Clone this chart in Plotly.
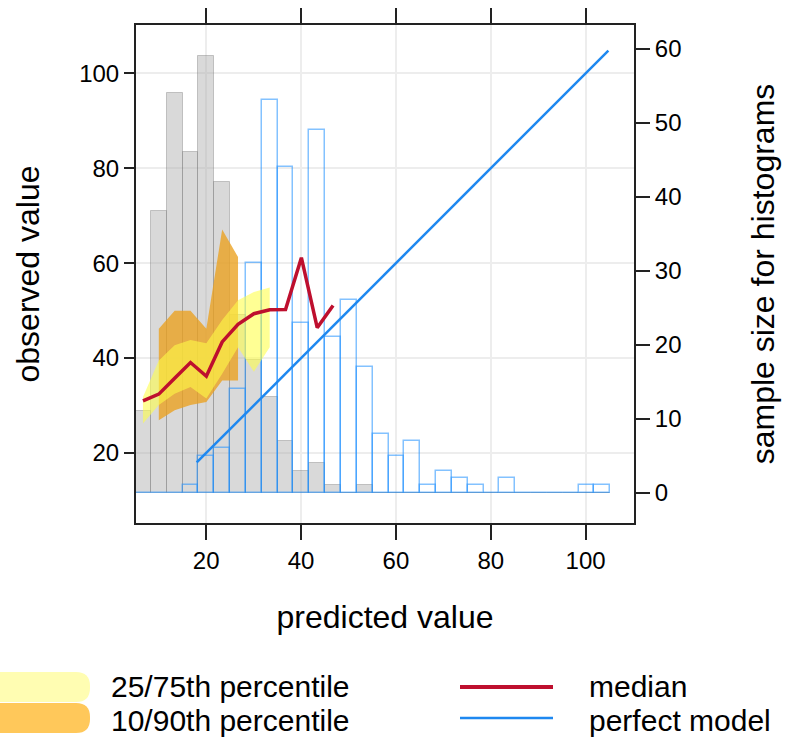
import plotly.graph_objects as go

# ---------------- data ----------------
bin_mid = [6.67, 10.01, 13.35, 16.69, 20.03, 23.37, 26.71, 30.05, 33.39, 36.73,
           40.07, 43.41, 46.75, 50.09, 53.43, 56.77, 60.11, 63.45, 66.79, 70.13,
           73.47, 76.81, 80.15, 83.49, 86.83, 90.17, 93.51, 96.85, 100.19, 103.53]
obs_counts = [11, 38, 54, 46, 59, 42, 24, 18, 13, 7, 3, 4, 1, 0, 1,
              0, 0, 0, 0, 0, 0, 0, 0, 0, 0, 0, 0, 0, 0, 0]
mod_counts = [0, 0, 0, 1, 5, 6, 14, 31, 53, 44, 23, 49, 21, 26, 17,
              8, 5, 7, 1, 3, 2, 1, 0, 2, 0, 0, 0, 0, 1, 1]

median_x = [6.67, 10.01, 13.35, 16.69, 20.03, 23.37, 26.71, 30.05, 33.39, 36.73,
            40.07, 43.41, 46.75]
median_y = [31.0, 32.4, 35.75, 39.06, 36.17, 43.4, 47.1, 49.35, 50.2, 50.25,
            61.15, 46.4, 51.1]

q2575_x = [6.67, 10.01, 13.35, 16.69, 20.03, 23.37, 26.71, 30.05, 33.39]
q75 = [31.8, 39.5, 42.7, 43.8, 43.1, 48.0, 52.2, 53.9, 54.9]
q25 = [26.2, 30.1, 32.5, 33.9, 31.5, 36.7, 42.3, 37.1, 42.3]

q1090_x = [10.01, 13.35, 16.69, 20.03, 23.37, 26.71]
q90 = [46.2, 50.0, 50.0, 46.2, 67.1, 61.3]
q10 = [26.9, 29.0, 30.1, 30.75, 35.3, 35.3]

perfect_x = [18.0, 104.8]
perfect_y = [18.0, 104.8]

x_ticks = [20, 40, 60, 80, 100]
y_ticks = [20, 40, 60, 80, 100]
count_ticks = [0, 10, 20, 30, 40, 50, 60]

legend_labels = ["25/75th percentile", "10/90th percentile", "median", "perfect model"]

BIN_W = 3.34
FONT = "Liberation Sans, Arial, Helvetica, sans-serif"

# ---------------- geometry ----------------
W, H = 790, 742
L, R, T, B = 136, 156, 25, 219
PW, PH = W - L - R, H - T - B


def px(x):
    return (x - L) / PW


def py(y):
    return 1 - (y - T) / PH


fig = go.Figure()

# histograms (count axis 'y', drawn first / underneath)
fig.add_trace(go.Bar(x=bin_mid, y=obs_counts, width=BIN_W, yaxis="y",
                     marker=dict(color="rgba(170,170,170,0.45)",
                                 line=dict(color="rgba(110,110,110,0.35)", width=1)),
                     hoverinfo="skip"))
fig.add_trace(go.Bar(x=bin_mid, y=mod_counts, width=BIN_W, yaxis="y",
                     marker=dict(color="rgba(0,0,0,0)",
                                 line=dict(color="rgba(30,144,255,0.55)", width=1.5)),
                     hoverinfo="skip"))

# quantile bands (observed axis 'y2')
fig.add_trace(go.Scatter(x=q1090_x + q1090_x[::-1], y=q90 + q10[::-1], yaxis="y2",
                         fill="toself", fillcolor="rgba(235,160,30,0.78)",
                         line=dict(width=0), mode="lines", hoverinfo="skip"))
fig.add_trace(go.Scatter(x=q2575_x + q2575_x[::-1], y=q75 + q25[::-1], yaxis="y2",
                         fill="toself", fillcolor="rgba(255,255,70,0.58)",
                         line=dict(width=0), mode="lines", hoverinfo="skip"))
fig.add_trace(go.Scatter(x=median_x, y=median_y, yaxis="y2", mode="lines",
                         line=dict(color="#BE0F2E", width=3.5)))
fig.add_trace(go.Scatter(x=perfect_x, y=perfect_y, yaxis="y2", mode="lines",
                         line=dict(color="#1E88F0", width=2.5)))

axis_common = dict(showline=True, linecolor="#222", linewidth=2, ticks="outside",
                   tickcolor="#222", tickwidth=2, zeroline=False,
                   tickfont=dict(family=FONT, size=24, color="#000"))
title_font = dict(family=FONT, size=32, color="#000")

fig.update_layout(
    width=W, height=H, autosize=False,
    margin=dict(l=L, r=R, t=T, b=B, autoexpand=False),
    plot_bgcolor="white", paper_bgcolor="white",
    showlegend=False, barmode="overlay", bargap=0,
    xaxis=dict(range=[5.2, 110.2], tickvals=x_ticks, mirror="ticks", ticklen=15,
               showgrid=True, gridcolor="#ededed", gridwidth=1.5,
               title=dict(text="predicted value", font=title_font, standoff=33),
               **axis_common),
    yaxis=dict(range=[-4.08, 63.18], tickvals=count_ticks, side="right", ticklen=14,
               showgrid=False,
               title=dict(text="sample size for histograms", font=title_font, standoff=71),
               **axis_common),
    yaxis2=dict(range=[5.24, 110.2], tickvals=y_ticks, side="left", overlaying="y",
                ticklen=10, showgrid=True, gridcolor="#ededed", gridwidth=1.5,
                title=dict(text="observed value", font=title_font, standoff=30),
                **axis_common),
)

# ---------------- legend (manual, below the plot) ----------------
def rounded_right(x0, x1, y0, y1, r):
    # pixel rect with rounded right corners -> paper path
    return (f"M {px(x0)},{py(y0)} L {px(x1 - r)},{py(y0)} "
            f"Q {px(x1)},{py(y0)} {px(x1)},{py(y0 + r)} "
            f"L {px(x1)},{py(y1 - r)} Q {px(x1)},{py(y1)} {px(x1 - r)},{py(y1)} "
            f"L {px(x0)},{py(y1)} Z")


fig.add_shape(type="path", xref="paper", yref="paper",
              path=rounded_right(-5, 90, 672, 702, 14),
              fillcolor="#FFFDB2", line=dict(width=0))
fig.add_shape(type="path", xref="paper", yref="paper",
              path=rounded_right(-5, 90, 703, 733, 14),
              fillcolor="#FFC85A", line=dict(width=0))
fig.add_shape(type="line", xref="paper", yref="paper",
              x0=px(460), x1=px(553), y0=py(687), y1=py(687),
              line=dict(color="#BE0F2E", width=4))
fig.add_shape(type="line", xref="paper", yref="paper",
              x0=px(460), x1=px(553), y0=py(718), y1=py(718),
              line=dict(color="#1E88F0", width=2.5))

legend_pos = [(110, 686), (110, 720), (588, 686), (588, 720)]
for txt, (lx, ly) in zip(legend_labels, legend_pos):
    fig.add_annotation(xref="paper", yref="paper", x=px(lx), y=py(ly), text=txt,
                       showarrow=False, xanchor="left", yanchor="middle",
                       borderpad=0,
                       font=dict(family=FONT, size=30, color="#000"))

fig.write_html("out.html")
